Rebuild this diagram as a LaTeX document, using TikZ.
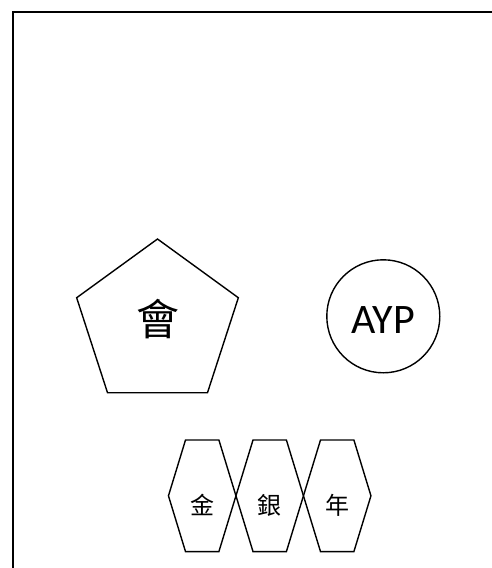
\documentclass[tikz,border=0pt]{standalone}
\usepackage{fontspec}
\setmainfont{Carlito}
\newfontfamily\cjkfont{Noto Sans CJK TC}
\usetikzlibrary{positioning, shapes.geometric, shapes.symbols}

\tikzset{
  shapeline/.style={draw, line width=1.4pt, inner sep=0pt, outer sep=0pt},
  penta/.style={shapeline, regular polygon, regular polygon sides=5,
    minimum size=170pt, text height=23.6pt, text depth=0pt,
    font=\cjkfont\fontsize{43}{43}\selectfont},
  ring/.style={shapeline, circle, minimum size=113pt,
    text height=34.5pt, text depth=0pt, font=\fontsize{42}{42}\selectfont},
  hexa/.style={shapeline, signal, signal to=west and east,
    signal pointer angle=146, minimum width=67.5pt, minimum height=111.7pt,
    text height=36.6pt, text depth=0pt,
    font=\cjkfont\fontsize{24}{24}\selectfont},
}

\begin{document}
\begin{tikzpicture}[x=1pt, y=-1pt]
  \useasboundingbox (0,0) rectangle (492,568);
  \clip (0,0) rectangle (492,568);
  % frame
  \draw[line width=2.2pt] (13,12) rectangle (520,600);

  % upper row
  \node[penta] (hall) at (157.5,324) {會};
  \node[ring] (ayp) at (383.3,316.3) {AYP};

  % lower row
  \node[hexa] (gold) at (202.2,495.8) {金};
  \node[hexa, right=0pt of gold] (silver) {銀};
  \node[hexa, right=0pt of silver] (year) {年};
\end{tikzpicture}
\end{document}
